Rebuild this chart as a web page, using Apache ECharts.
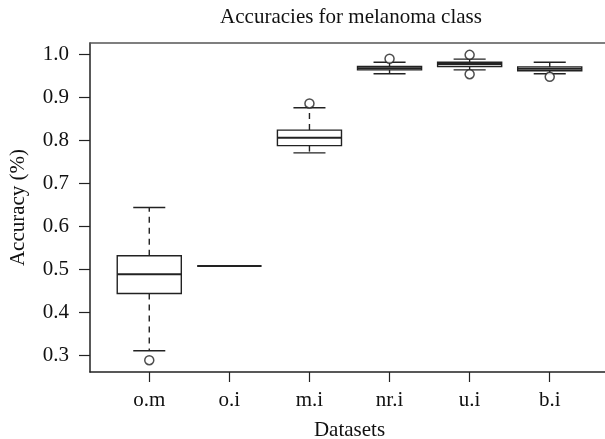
<!DOCTYPE html>
<html>
<head>
<meta charset="utf-8">
<script src="https://cdn.jsdelivr.net/npm/echarts@6/dist/echarts.min.js"></script>
<style>html,body{margin:0;padding:0;background:#fff;}#c{width:605px;height:439px;}</style>
</head>
<body>
<div id="c"></div>
<script>
const categories = ['o.m', 'o.i', 'm.i', 'nr.i', 'u.i', 'b.i'];
const whiskerLow = [0.310, 0.507, 0.770, 0.954, 0.963, 0.954];
const q1 = [0.443, 0.507, 0.787, 0.963, 0.971, 0.961];
const medians = [0.488, 0.507, 0.805, 0.967, 0.977, 0.966];
const q3 = [0.531, 0.507, 0.823, 0.971, 0.981, 0.970];
const whiskerHigh = [0.643, 0.507, 0.875, 0.981, 0.988, 0.981];
const outlierCat = ['o.m', 'm.i', 'nr.i', 'u.i', 'u.i', 'b.i'];
const outlierVal = [0.288, 0.885, 0.989, 0.998, 0.953, 0.947];
const yTicks = [0.3, 0.4, 0.5, 0.6, 0.7, 0.8, 0.9, 1.0];

const FONT = '"Liberation Serif", "DejaVu Serif", serif';
const INK = '#222';

const boxData = categories.map((c, i) => [i + 1, whiskerLow[i], q1[i], medians[i], q3[i], whiskerHigh[i]]);
const outData = outlierCat.map((c, i) => [categories.indexOf(c) + 1, outlierVal[i]]);
const xPos = categories.map((c, i) => i + 1);

function renderBox(params, api) {
  const x = api.value(0);
  const lo = api.coord([x, api.value(1)]);
  const b1 = api.coord([x, api.value(2)]);
  const md = api.coord([x, api.value(3)]);
  const b3 = api.coord([x, api.value(4)]);
  const hi = api.coord([x, api.value(5)]);
  const halfBox = (api.coord([x + 0.4, 0])[0] - api.coord([x, 0])[0]);
  const halfCap = halfBox / 2;
  const cx = lo[0];
  const lineStyle = { stroke: INK, lineWidth: 1.4, fill: null };
  const children = [];
  if (hi[1] < b3[1]) {
    children.push({ type: 'line', shape: { x1: cx, y1: b3[1], x2: cx, y2: hi[1] }, style: Object.assign({}, lineStyle, { lineDash: [6, 5] }) });
    children.push({ type: 'line', shape: { x1: cx - halfCap, y1: hi[1], x2: cx + halfCap, y2: hi[1] }, style: lineStyle });
  }
  if (lo[1] > b1[1]) {
    children.push({ type: 'line', shape: { x1: cx, y1: b1[1], x2: cx, y2: lo[1] }, style: Object.assign({}, lineStyle, { lineDash: [6, 5] }) });
    children.push({ type: 'line', shape: { x1: cx - halfCap, y1: lo[1], x2: cx + halfCap, y2: lo[1] }, style: lineStyle });
  }
  children.push({ type: 'rect', shape: { x: cx - halfBox, y: b3[1], width: halfBox * 2, height: b1[1] - b3[1] }, style: { stroke: INK, lineWidth: 1.4, fill: '#fff' } });
  children.push({ type: 'line', shape: { x1: cx - halfBox, y1: md[1], x2: cx + halfBox, y2: md[1] }, style: { stroke: INK, lineWidth: 2 } });
  return { type: 'group', children: children };
}

const chart = echarts.init(document.getElementById('c'), null, { renderer: 'canvas' });
chart.setOption({
  animation: false,
  backgroundColor: '#fff',
  title: {
    text: 'Accuracies for melanoma class',
    left: 346, top: 2, textAlign: 'center',
    textStyle: { fontFamily: FONT, fontSize: 21, fontWeight: 'normal', color: '#111' }
  },
  grid: { left: 90, top: 43, bottom: 67, width: 519, containLabel: false, outerBoundsMode: 'none' },
  xAxis: [{
    type: 'value', min: 0.26, max: 6.74,
    name: 'Datasets', nameLocation: 'middle', nameGap: 48,
    nameTextStyle: { fontFamily: FONT, fontSize: 21, color: '#111' },
    axisLine: { show: true, onZero: false, lineStyle: { color: INK, width: 1.5 } },
    axisTick: { show: true, inside: false, length: 10, customValues: xPos, lineStyle: { color: INK, width: 1.2 } },
    axisLabel: { show: true, margin: 18, customValues: xPos, formatter: v => categories[Math.round(v) - 1] || '',
      fontFamily: FONT, fontSize: 21, color: '#111' },
    splitLine: { show: false }
  }, {
    type: 'value', min: 0.26, max: 6.74, position: 'top',
    axisLine: { show: true, lineStyle: { color: '#555', width: 1.5 } },
    axisTick: { show: false }, axisLabel: { show: false }, splitLine: { show: false }
  }],
  yAxis: {
    type: 'value', min: 0.2605, max: 1.0256,
    name: 'Accuracy (%)', nameLocation: 'middle', nameGap: 61, nameRotate: 90,
    nameTextStyle: { fontFamily: FONT, fontSize: 21, color: '#111' },
    axisLine: { show: true, onZero: false, lineStyle: { color: INK, width: 1.5 } },
    axisTick: { show: true, inside: false, length: 11, customValues: yTicks, lineStyle: { color: INK, width: 1.2 } },
    axisLabel: { show: true, margin: 21, customValues: yTicks, formatter: v => v.toFixed(1),
      fontFamily: FONT, fontSize: 21, color: '#111' },
    splitLine: { show: false }
  },
  series: [{
    type: 'custom',
    xAxisIndex: 0,
    renderItem: renderBox,
    encode: { x: 0, y: [1, 2, 3, 4, 5] },
    data: boxData,
    clip: false
  }, {
    type: 'scatter',
    xAxisIndex: 0,
    symbol: 'circle', symbolSize: 9,
    itemStyle: { color: '#fff', borderColor: INK, borderWidth: 1.5 },
    data: outData,
    z: 5
  }]
});
</script>
</body>
</html>
